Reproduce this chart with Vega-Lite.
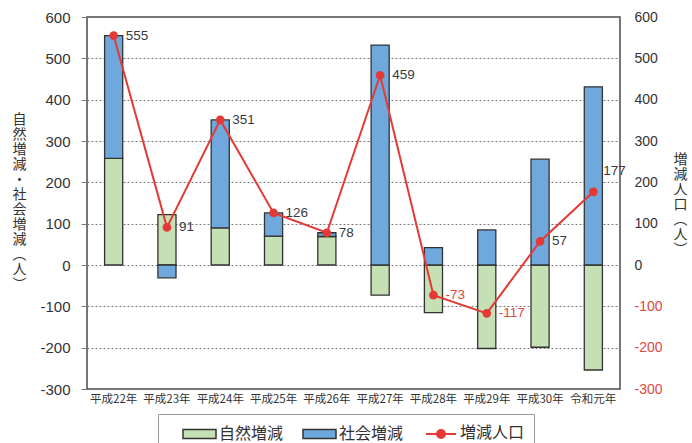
{
  "$schema": "https://vega.github.io/schema/vega-lite/v6.json",
  "width": 533,
  "height": 372,
  "autosize": {"type": "none"},
  "padding": {"left": 87, "top": 17, "right": 72, "bottom": 54},
  "background": "white",
  "config": {
    "view": {"stroke": "#4a4a4a", "strokeWidth": 1.5},
    "locale": {
      "number": {"decimal": ".", "thousands": ",", "grouping": [3], "currency": ["", ""], "minus": "-"}
    }
  },
  "datasets": {
    "components": [
      {"year": "平成22年", "type": "自然増減", "value": 258},
      {"year": "平成22年", "type": "社会増減", "value": 297},
      {"year": "平成23年", "type": "自然増減", "value": 122},
      {"year": "平成23年", "type": "社会増減", "value": -31},
      {"year": "平成24年", "type": "自然増減", "value": 90},
      {"year": "平成24年", "type": "社会増減", "value": 261},
      {"year": "平成25年", "type": "自然増減", "value": 70},
      {"year": "平成25年", "type": "社会増減", "value": 56},
      {"year": "平成26年", "type": "自然増減", "value": 69},
      {"year": "平成26年", "type": "社会増減", "value": 9},
      {"year": "平成27年", "type": "自然増減", "value": -73},
      {"year": "平成27年", "type": "社会増減", "value": 532},
      {"year": "平成28年", "type": "自然増減", "value": -115},
      {"year": "平成28年", "type": "社会増減", "value": 42},
      {"year": "平成29年", "type": "自然増減", "value": -202},
      {"year": "平成29年", "type": "社会増減", "value": 85},
      {"year": "平成30年", "type": "自然増減", "value": -199},
      {"year": "平成30年", "type": "社会増減", "value": 256},
      {"year": "令和元年", "type": "自然増減", "value": -254},
      {"year": "令和元年", "type": "社会増減", "value": 431}
    ],
    "totals": [
      {"year": "平成22年", "total": 555},
      {"year": "平成23年", "total": 91},
      {"year": "平成24年", "total": 351},
      {"year": "平成25年", "total": 126},
      {"year": "平成26年", "total": 78},
      {"year": "平成27年", "total": 459},
      {"year": "平成28年", "total": -73},
      {"year": "平成29年", "total": -117},
      {"year": "平成30年", "total": 57},
      {"year": "令和元年", "total": 177}
    ]
  },
  "layer": [
    {
      "data": {"name": "components"},
      "encoding": {
        "x": {
          "field": "year",
          "type": "nominal",
          "sort": null,
          "scale": {"paddingInner": 0.66, "paddingOuter": 0.33},
          "axis": {
            "title": null,
            "labelAngle": 0,
            "ticks": false,
            "domain": false,
            "labelFont": "Noto Sans CJK JP",
            "labelFontSize": 11.5,
            "labelColor": "#333333",
            "labelPadding": 4
          }
        },
        "y": {
          "field": "value",
          "type": "quantitative",
          "scale": {"domain": [-300, 600], "nice": false, "zero": false},
          "axis": {
            "orient": "left",
            "values": [-300, -200, -100, 0, 100, 200, 300, 400, 500, 600],
            "grid": true,
            "gridColor": "#7a7a7a",
            "gridDash": [2, 2],
            "domain": false,
            "tickSize": 6,
            "tickColor": "#777777",
            "labelFont": "Liberation Sans",
            "labelFontSize": 15,
            "labelColor": "#333333",
            "labelPadding": 11,
            "title": ["自", "然", "増", "減", "・", "社", "会", "増", "減", "︵", "人", "︶"],
            "titleAngle": 0,
            "titleX": -68,
            "titleY": 95,
            "titleAlign": "center",
            "titleBaseline": "top",
            "titleFont": "Noto Sans CJK JP",
            "titleFontSize": 14,
            "titleFontWeight": "normal",
            "titleColor": "#333333",
            "titleLineHeight": 15
          }
        }
      },
      "layer": [
        {
          "mark": {"type": "bar", "stroke": "#333333", "strokeWidth": 1.3},
          "encoding": {
            "y": {"field": "value", "type": "quantitative", "stack": "zero"},
            "color": {
              "field": "type",
              "type": "nominal",
              "scale": {
                "domain": ["自然増減", "社会増減"],
                "range": ["#c5e0b4", "#6fa8dc"]
              },
              "legend": {
                "title": "増減人口",
                "titleOrient": "right",
                "titleAnchor": "middle",
                "titleBaseline": "middle",
                "titlePadding": 57,
                "titleFont": "Noto Sans CJK JP",
                "titleFontSize": 16,
                "titleFontWeight": "normal",
                "titleColor": "#333333",
                "orient": "none",
                "legendX": 71,
                "legendY": 397,
                "direction": "horizontal",
                "strokeColor": "#9a9a9a",
                "padding": 9,
                "columnPadding": 3,
                "symbolType": "M-1.65,-0.45H1.65V0.45H-1.65Z",
                "symbolSize": 400,
                "symbolStrokeColor": "#333333",
                "symbolStrokeWidth": 1.5,
                "symbolOpacity": 1,
                "symbolOffset": 21.5,
                "labelOffset": 8.5,
                "labelFont": "Noto Sans CJK JP",
                "labelFontSize": 16,
                "labelColor": "#333333"
              }
            },
            "order": {"field": "type", "sort": "descending"}
          }
        },
        {
          "data": {"values": [{}]},
          "mark": {"type": "rule", "color": "#333333", "strokeWidth": 1.5},
          "encoding": {"y": {"datum": 0}}
        }
      ]
    },
    {
      "data": {"name": "totals"},
      "encoding": {
        "x": {"field": "year", "type": "nominal", "sort": null},
        "y": {
          "field": "total",
          "type": "quantitative",
          "scale": {"domain": [-300, 600], "nice": false, "zero": false},
          "axis": {
            "orient": "right",
            "values": [-300, -200, -100, 0, 100, 200, 300, 400, 500, 600],
            "grid": false,
            "domain": false,
            "tickSize": 0,
            "labelFont": "Liberation Sans",
            "labelFontSize": 14,
            "labelColor": {"condition": {"test": "datum.value < 0", "value": "#e0473f"}, "value": "#333333"},
            "labelPadding": 14,
            "title": ["増", "減", "人", "口", "︵", "人", "︶"],
            "titleAngle": 0,
            "titleX": 60,
            "titleY": 135,
            "titleAlign": "center",
            "titleBaseline": "top",
            "titleFont": "Noto Sans CJK JP",
            "titleFontSize": 14,
            "titleFontWeight": "normal",
            "titleColor": "#333333",
            "titleLineHeight": 15
          }
        }
      },
      "layer": [
        {
          "mark": {"type": "line", "strokeWidth": 2},
          "encoding": {
            "stroke": {
              "datum": "増減人口",
              "scale": {"range": ["#e53935"]},
              "legend": {
                "title": null,
                "orient": "none",
                "legendX": 343,
                "legendY": 406,
                "padding": 0,
                "symbolType": "M-1.5,0H1.5M0.4,0A0.4,0.4,0,1,1,-0.4,0A0.4,0.4,0,1,1,0.4,0M0.3,0A0.3,0.3,0,1,1,-0.3,0A0.3,0.3,0,1,1,0.3,0M0.2,0A0.2,0.2,0,1,1,-0.2,0A0.2,0.2,0,1,1,0.2,0M0.1,0A0.1,0.1,0,1,1,-0.1,0A0.1,0.1,0,1,1,0.1,0",
                "symbolSize": 400,
                "symbolStrokeWidth": 2,
                "symbolOpacity": 1,
                "symbolOffset": 0,
                "labelExpr": "''",
                "labelFontSize": 1
              }
            }
          }
        },
        {
          "mark": {"type": "point", "filled": true, "size": 75, "opacity": 1, "color": "#e53935"}
        },
        {
          "transform": [{"filter": "datum.year !== '令和元年'"}],
          "mark": {"type": "text", "align": "left", "baseline": "middle", "dx": 12, "font": "Liberation Sans", "fontSize": 13.5},
          "encoding": {
            "text": {"field": "total", "type": "quantitative"},
            "color": {"condition": {"test": "datum.total < 0", "value": "#e0473f"}, "value": "#3a3a3a"}
          }
        },
        {
          "transform": [{"filter": "datum.year === '令和元年'"}],
          "mark": {"type": "text", "align": "left", "baseline": "middle", "dx": 10, "dy": -21, "font": "Liberation Sans", "fontSize": 13.5, "color": "#3a3a3a"},
          "encoding": {
            "text": {"field": "total", "type": "quantitative"}
          }
        }
      ]
    }
  ],
  "resolve": {"scale": {"y": "independent"}}
}
